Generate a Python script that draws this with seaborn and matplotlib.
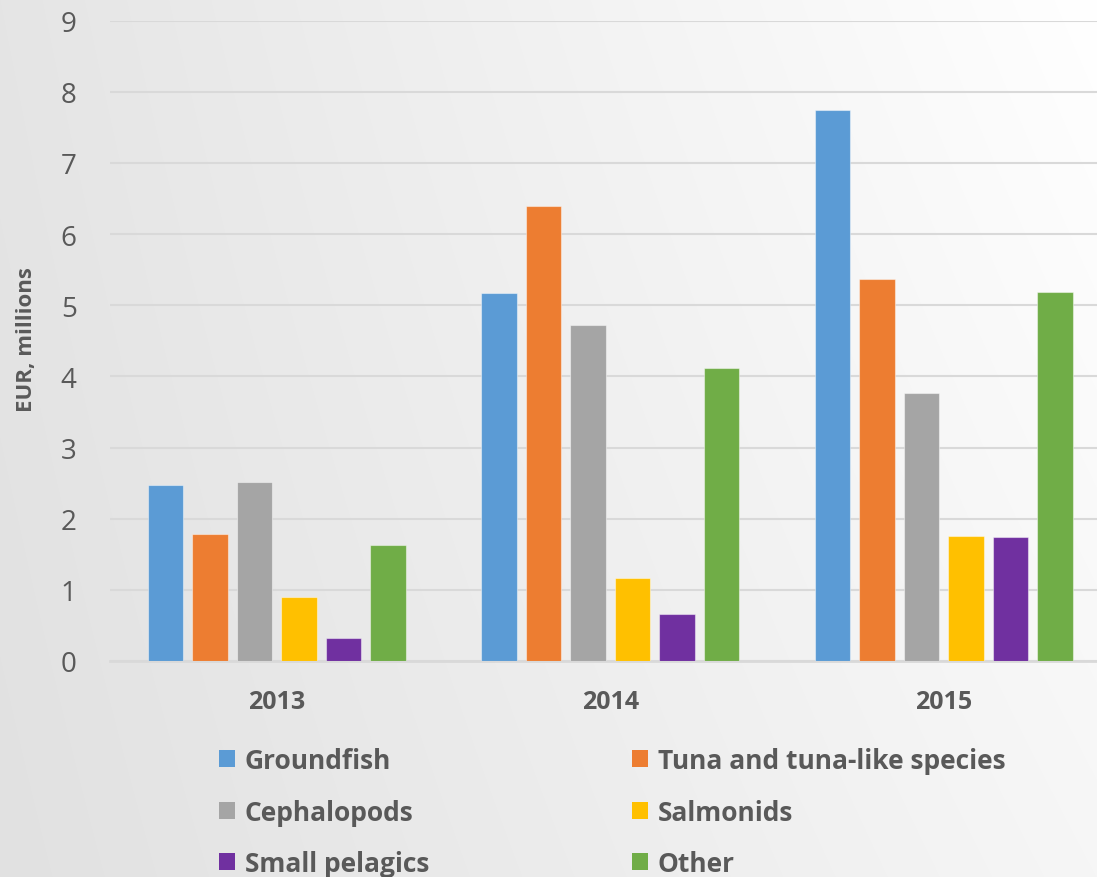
import numpy as np
import pandas as pd
import matplotlib
matplotlib.use("Agg")
import matplotlib.pyplot as plt
import seaborn as sns

# Export value by species group, EUR millions
years = ["2013", "2014", "2015"]
species = ["Groundfish", "Tuna and tuna-like species", "Cephalopods",
           "Salmonids", "Small pelagics", "Other"]
groundfish = [2.47, 5.17, 7.74]
tuna = [1.78, 6.40, 5.37]
cephalopods = [2.51, 4.72, 3.76]
salmonids = [0.90, 1.17, 1.76]
small_pelagics = [0.32, 0.66, 1.74]
other = [1.63, 4.12, 5.18]

palette = ["#5B9BD5", "#ED7D31", "#A5A5A5", "#FFC000", "#7030A0", "#70AD47"]

series = [groundfish, tuna, cephalopods, salmonids, small_pelagics, other]
df = pd.DataFrame(
    [(y, s, v) for s, vals in zip(species, series) for y, v in zip(years, vals)],
    columns=["year", "species", "value"],
)

sns.set_style("white")
plt.rcParams["font.family"] = ["Open Sans", "DejaVu Sans"]
text_grey = "#595959"

W, H = 1097, 878
fig = plt.figure(figsize=(W / 100, H / 100), dpi=100)

# soft grey-to-white backdrop
xs = np.linspace(0, 1, W)[None, :]
ys = np.linspace(0, 1, H)[:, None]
tl, tr, bl, br = 229, 255, 225, 246
shade = (tl * (1 - xs) * (1 - ys) + tr * xs * (1 - ys)
         + bl * (1 - xs) * ys + br * xs * ys) / 255.0
bg = np.dstack([shade, shade, shade])
fig.figimage(bg, xo=0, yo=0, origin="upper", zorder=-10)
fig.patch.set_alpha(0)

ax = fig.add_axes([110 / W, 1 - 662 / H, (W - 110) / W, (662 - 21.5) / H])
ax.set_facecolor("none")

sns.barplot(data=df, x="year", y="value", hue="species", hue_order=species,
            order=years, palette=palette, saturation=1, width=0.8, gap=0.2,
            edgecolor=(1, 1, 1, 0.45), linewidth=0.8, ax=ax, zorder=3,
            errorbar=None)

ax.set_ylim(0, 9)
ax.set_xlim(-0.5, 2.46)
ax.set_yticks(range(0, 10))
ax.yaxis.grid(True, color="#d9d9d9", linewidth=1.5, zorder=0)
ax.set_axisbelow(True)
for side in ["top", "right", "left"]:
    ax.spines[side].set_visible(False)
ax.spines["bottom"].set_color("#d9d9d9")
ax.spines["bottom"].set_linewidth(2)

ax.tick_params(axis="y", length=0, pad=24, labelsize=20, labelcolor=text_grey)
ax.tick_params(axis="x", length=0, pad=20, labelsize=18, labelcolor=text_grey)
for t in ax.get_xticklabels():
    t.set_fontweight("bold")

ax.set_xlabel("")
ax.set_ylabel("EUR, millions", fontsize=16, fontweight="bold", color=text_grey)
ax.yaxis.set_label_coords(-0.074, 0.503)

handles, labels = ax.get_legend_handles_labels()
ax.get_legend().remove()

legend_kw = dict(frameon=False, handlelength=0.62, handleheight=0.62,
                 handletextpad=0.35, labelspacing=0.93, borderpad=0, borderaxespad=0,
                 labelcolor=text_grey, prop={"weight": "bold", "size": 19})
col1 = fig.legend([handles[i] for i in (0, 2, 4)], [labels[i] for i in (0, 2, 4)],
                  loc="upper left", bbox_to_anchor=(219 / W, 1 - 748 / H), **legend_kw)
col2 = fig.legend([handles[i] for i in (1, 3, 5)], [labels[i] for i in (1, 3, 5)],
                  loc="upper left", bbox_to_anchor=(632 / W, 1 - 748 / H), **legend_kw)
for leg in (col1, col2):
    for h in leg.legend_handles:
        h.set_edgecolor("none")

fig.savefig("out.png", dpi=100)
